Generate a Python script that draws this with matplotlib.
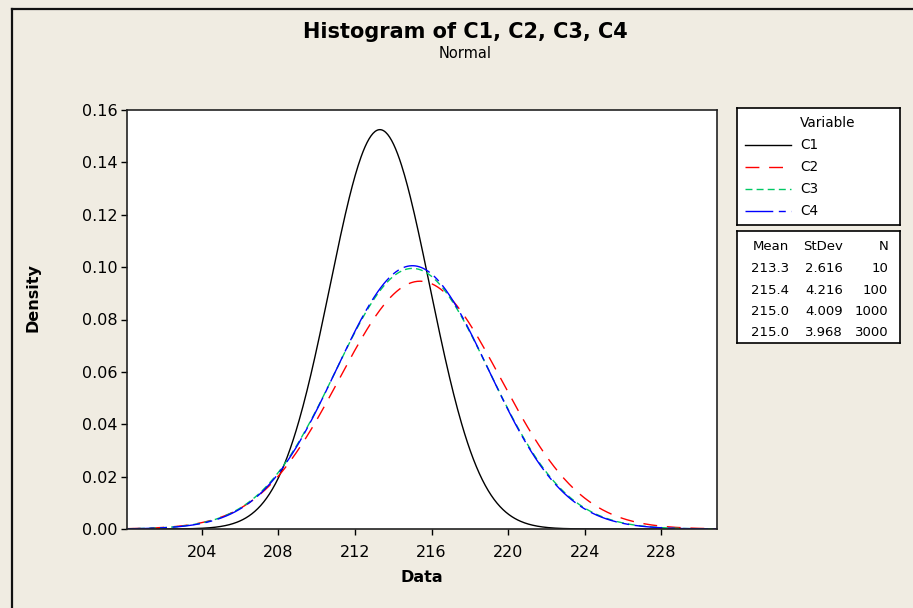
import matplotlib
matplotlib.use('Agg')
import matplotlib.pyplot as plt
import numpy as np

variables = ['C1', 'C2', 'C3', 'C4']
means = [213.3, 215.4, 215.0, 215.0]
stdevs = [2.616, 4.216, 4.009, 3.968]
counts = [10, 100, 1000, 3000]
x_ticks = [204, 208, 212, 216, 220, 224, 228]
y_ticks = [0.00, 0.02, 0.04, 0.06, 0.08, 0.10, 0.12, 0.14, 0.16]
x_range = (200.07, 230.9)

line_colors = ['black', '#ff0000', '#00c864', '#0000ff']
line_dashes = [None, (10, 7), (5, 3), (20, 4, 5, 4)]

BG = '#f0ece2'
W, H = 913, 608

plt.rcParams['font.family'] = ['DejaVu Sans']
plt.rcParams['lines.scale_dashes'] = False


def px_rect(x0, y0, x1, y1):
    # pixel box (top-left origin) -> figure fraction rect
    return [x0 / W, 1 - y1 / H, (x1 - x0) / W, (y1 - y0) / H]


def normal_pdf(x, mu, sd):
    return np.exp(-0.5 * ((x - mu) / sd) ** 2) / (sd * np.sqrt(2 * np.pi))


fig = plt.figure(figsize=(W / 100, H / 100), dpi=100, facecolor=BG)

# outer frame (only left and top edges show in the picture)
fig.add_artist(plt.Line2D([12 / W, 12 / W], [0, 1 - 9 / H], color='#111111', lw=1.6))
fig.add_artist(plt.Line2D([12 / W, 1], [1 - 9 / H, 1 - 9 / H], color='#111111', lw=1.6))

ax = fig.add_axes(px_rect(126.7, 110, 716.7, 529))
ax.set_facecolor('white')
xs = np.linspace(x_range[0], x_range[1], 600)
for name, mu, sd, col, dash in zip(variables, means, stdevs, line_colors, line_dashes):
    line, = ax.plot(xs, normal_pdf(xs, mu, sd), color=col, lw=1.0)
    if dash is not None:
        line.set_dashes(dash)

ax.set_xlim(*x_range)
ax.set_ylim(0, 0.16)
ax.set_xticks(x_ticks)
ax.set_yticks(y_ticks)
ax.set_yticklabels(['%.2f' % v for v in y_ticks])
ax.tick_params(direction='out', length=4.5, width=1, labelsize=11.5, colors='black', pad=2)
ax.tick_params(axis='x', pad=7)
for sp in ax.spines.values():
    sp.set_linewidth(1.2)
    sp.set_color('#222222')

fig.text(465 / W, 1 - 32 / H, 'Histogram of C1, C2, C3, C4', ha='center', va='center',
         fontsize=15, fontweight='bold')
fig.text(465 / W, 1 - 53 / H, 'Normal', ha='center', va='center', fontsize=10.5)
fig.text(33 / W, 1 - 298 / H, 'Density', ha='center', va='center', rotation=90,
         fontsize=11.5, fontweight='bold')
fig.text(421.7 / W, 1 - 578 / H, 'Data', ha='center', va='center',
         fontsize=11.5, fontweight='bold')

# legend box: variables
leg = fig.add_axes(px_rect(737.3, 108.3, 900.3, 225))
leg.set_xlim(0, 163)
leg.set_ylim(116.7, 0)
leg.set_xticks([])
leg.set_yticks([])
leg.set_facecolor('white')
for sp in leg.spines.values():
    sp.set_linewidth(1.2)
leg.text(63, 15, 'Variable', va='center', ha='left', fontsize=9.8)
row_y = [37, 58.6, 81, 103]
for name, col, dash, yy in zip(variables, line_colors, line_dashes, row_y):
    ln, = leg.plot([8, 54], [yy, yy], color=col, lw=1.0)
    if dash is not None:
        ln.set_dashes(dash)
    leg.text(63, yy, name, va='center', ha='left', fontsize=9.8)

# legend box: summary table
tab = fig.add_axes(px_rect(737.3, 231, 900.3, 343))
tab.set_xlim(0, 163)
tab.set_ylim(112, 0)
tab.set_xticks([])
tab.set_yticks([])
tab.set_facecolor('white')
for sp in tab.spines.values():
    sp.set_linewidth(1.2)
col_x = [51.5, 105.5, 151]
for cx, head in zip(col_x, ['Mean', 'StDev', 'N']):
    tab.text(cx, 15.7, head, va='center', ha='right', fontsize=9.5)
for i, (mu, sd, n) in enumerate(zip(means, stdevs, counts)):
    yy = 38 + i * 21.3
    tab.text(col_x[0], yy, '%.1f' % mu, va='center', ha='right', fontsize=9.5)
    tab.text(col_x[1], yy, '%.3f' % sd, va='center', ha='right', fontsize=9.5)
    tab.text(col_x[2], yy, '%d' % n, va='center', ha='right', fontsize=9.5)

fig.savefig('out.png', dpi=100, facecolor=BG)
